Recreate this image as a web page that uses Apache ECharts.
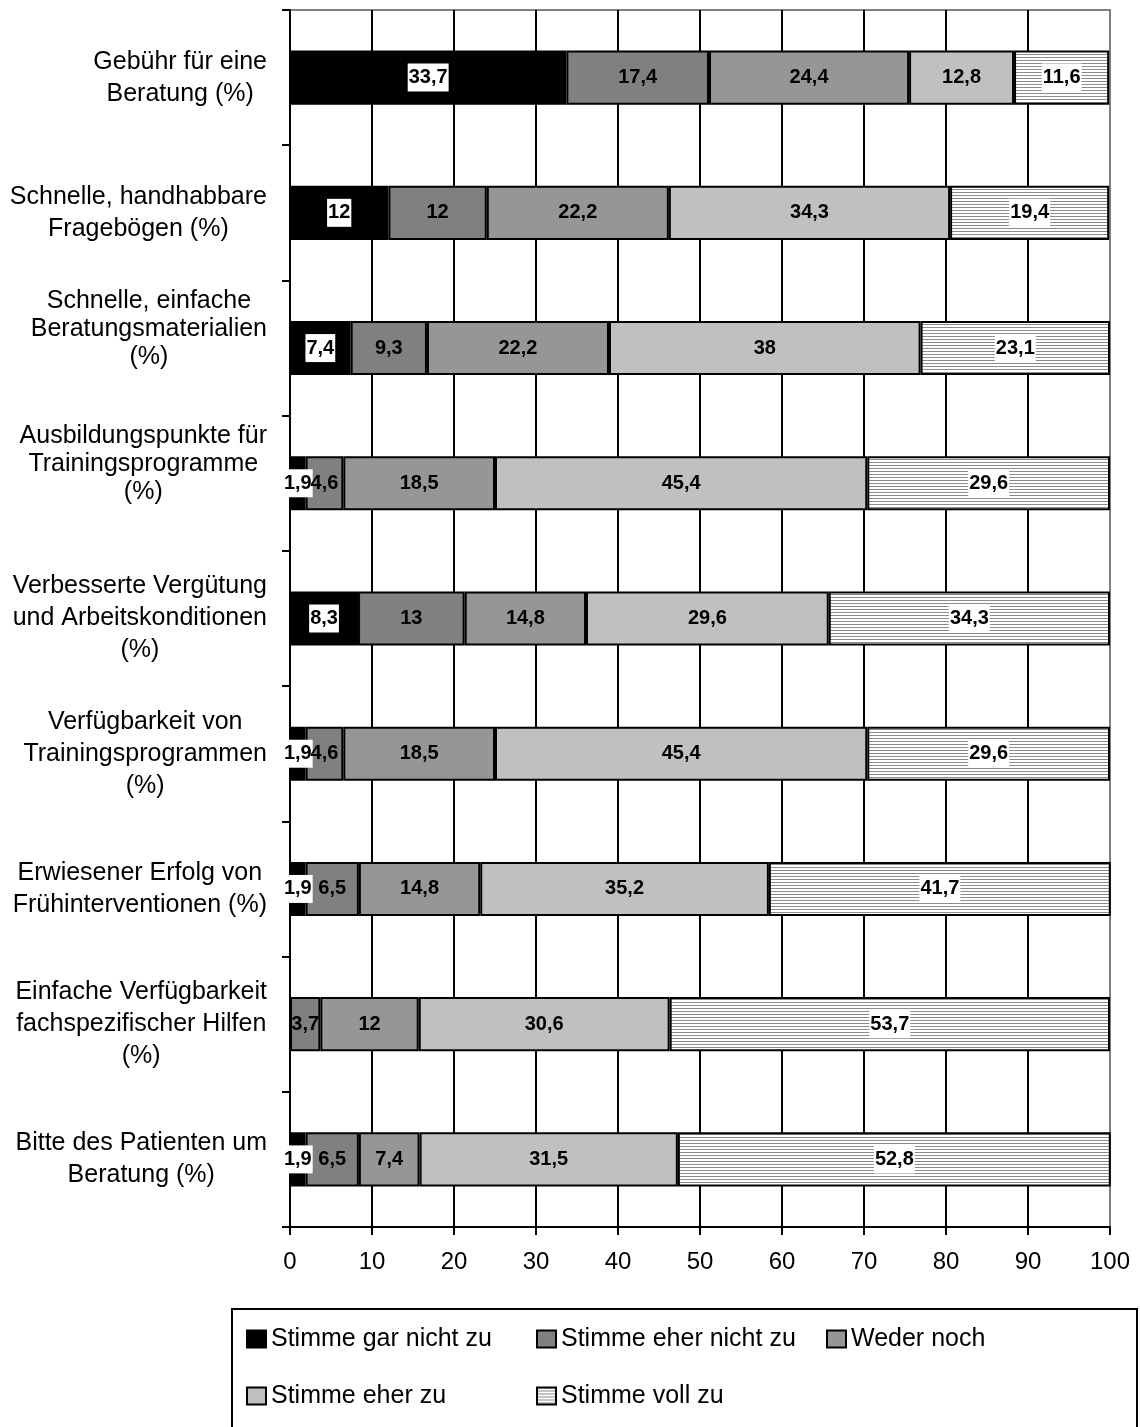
<!DOCTYPE html>
<html>
<head>
<meta charset="utf-8">
<script src="https://cdn.jsdelivr.net/npm/echarts@6/dist/echarts.min.js"></script>
<style>
  html, body { margin: 0; padding: 0; background: #fff; }
  #chart { width: 1140px; height: 1427px; }
</style>
</head>
<body>
<div id="chart"></div>
<script>
// Survey statements (top to bottom)
const categories = [
  'Gebühr für eine\nBeratung (%)',
  'Schnelle, handhabbare\nFragebögen (%)',
  'Schnelle, einfache\nBeratungsmaterialien\n(%)',
  'Ausbildungspunkte für\nTrainingsprogramme\n(%)',
  'Verbesserte Vergütung\nund Arbeitskonditionen\n(%)',
  'Verfügbarkeit von\nTrainingsprogrammen\n(%)',
  'Erwiesener Erfolg von\nFrühinterventionen (%)',
  'Einfache Verfügbarkeit\nfachspezifischer Hilfen\n(%)',
  'Bitte des Patienten um\nBeratung (%)'
];

// Labels that sit a little higher and tighter in the axis column
const raisedLabels = [2, 3];

const seriesNames = [
  'Stimme gar nicht zu',
  'Stimme eher nicht zu',
  'Weder noch',
  'Stimme eher zu',
  'Stimme voll zu'
];

// Answer shares in percent, one array per answer option
const garNichtZu   = [33.7, 12, 7.4, 1.9, 8.3, 1.9, 1.9, '-', 1.9];
const eherNichtZu  = [17.4, 12, 9.3, 4.6, 13, 4.6, 6.5, 3.7, 6.5];
const wederNoch    = [24.4, 22.2, 22.2, 18.5, 14.8, 18.5, 14.8, 12, 7.4];
const eherZu       = [12.8, 34.3, 38, 45.4, 29.6, 45.4, 35.2, 30.6, 31.5];
const vollZu       = [11.6, 19.4, 23.1, 29.6, 34.3, 29.6, 41.7, 53.7, 52.8];

const FONT = '"Liberation Sans", Arial, Helvetica, sans-serif';

// Horizontal hatching used for "Stimme voll zu"
function stripePattern() {
  const c = document.createElement('canvas');
  c.width = 4; c.height = 3;
  const ctx = c.getContext('2d');
  ctx.fillStyle = '#ffffff';
  ctx.fillRect(0, 0, 4, 3);
  ctx.fillStyle = '#8c8c8c';
  ctx.fillRect(0, 0, 4, 1);
  return { image: c, repeat: 'repeat' };
}

const fills = ['#000000', '#808080', '#969696', '#c0c0c0', stripePattern()];
const values = [garNichtZu, eherNichtZu, wederNoch, eherZu, vollZu];
const boxedLabels = [true, false, false, false, true];

const fmt = p => String(p.value).replace('.', ',');

const series = seriesNames.map((name, i) => ({
  name: name,
  type: 'bar',
  stack: 'total',
  barWidth: '40%',
  data: values[i],
  itemStyle: { color: fills[i], borderColor: '#000', borderWidth: 2 },
  label: Object.assign({
    show: true,
    position: 'inside',
    formatter: fmt,
    color: '#000',
    fontFamily: FONT,
    fontWeight: 'bold',
    fontSize: 20,
    textBorderWidth: 0
  }, boxedLabels[i] ? { backgroundColor: '#fff', padding: [4, 1] } : {}),
  emphasis: { disabled: true }
}));

// Category label: each line centred within the label block
function categoryLabel(v, idx) {
  const lines = v.split('\n');
  if (raisedLabels.indexOf(idx) >= 0) {
    return lines.map(l => '{d|' + l + '}').join('\n') + '\n{sp| }';
  }
  return lines.map(l => '{c|' + l + '}').join('\n');
}

const chart = echarts.init(document.getElementById('chart'), null, { renderer: 'canvas' });

chart.setOption({
  animation: false,
  backgroundColor: '#fff',
  textStyle: { fontFamily: FONT },
  grid: {
    left: 290, right: 30, top: 10, bottom: 200,
    show: true, borderColor: '#808080', borderWidth: 2,
    containLabel: false, outerBoundsMode: 'none'
  },
  xAxis: {
    type: 'value',
    min: 0, max: 100, interval: 10,
    axisLine: { show: true, lineStyle: { color: '#000', width: 2 } },
    axisTick: { show: true, length: 8, lineStyle: { color: '#000', width: 2 } },
    axisLabel: { margin: 23, fontSize: 24, color: '#000', fontFamily: FONT },
    splitLine: { show: true, showMinLine: false, showMaxLine: false, lineStyle: { color: '#000', width: 2 } }
  },
  yAxis: {
    type: 'category',
    inverse: true,
    data: categories,
    axisLine: { show: true, lineStyle: { color: '#000', width: 2 } },
    axisTick: { show: true, length: 8, lineStyle: { color: '#000', width: 2 } },
    axisLabel: {
      margin: 23,
      formatter: categoryLabel,
      rich: {
        c: { align: 'center', fontSize: 25, lineHeight: 32, fontFamily: FONT, color: '#000' },
        d: { align: 'center', fontSize: 25, lineHeight: 28, fontFamily: FONT, color: '#000' },
        sp: { align: 'center', fontSize: 2, lineHeight: 38, fontFamily: FONT, color: '#fff' }
      }
    },
    splitLine: { show: false }
  },
  legend: {
    data: seriesNames,
    left: 232,
    top: 1309,
    width: 860,
    orient: 'horizontal',
    padding: [15, 48, 40, 14],
    itemGap: 27,
    itemWidth: 19,
    itemHeight: 17,
    borderColor: '#000',
    borderWidth: 2,
    backgroundColor: '#fff',
    selectedMode: false,
    icon: 'rect',
    itemStyle: { borderColor: '#000', borderWidth: 2 },
    formatter: '{n|{name}}',
    textStyle: {
      fontSize: 25, color: '#000', fontFamily: FONT, lineHeight: 30,
      rich: { n: { width: 238, fontSize: 25, lineHeight: 30, fontFamily: FONT, color: '#000' } }
    }
  },
  series: series
});
</script>
</body>
</html>
